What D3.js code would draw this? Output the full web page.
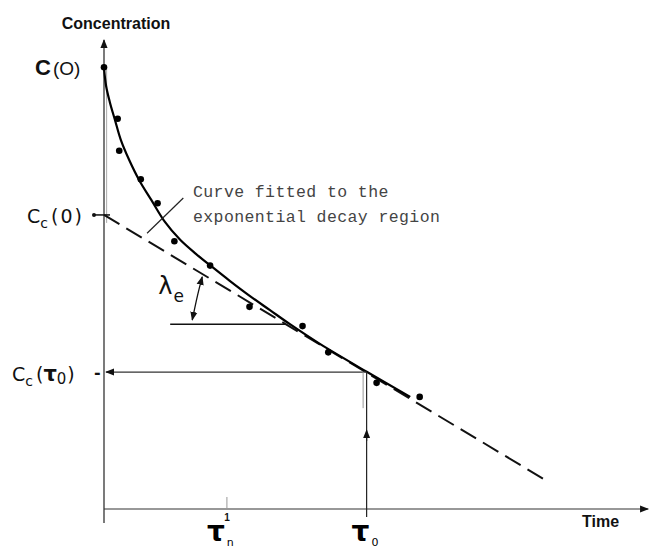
<!DOCTYPE html>
<html>
<head>
<meta charset="utf-8">
<script src="https://cdn.jsdelivr.net/npm/d3@7"></script>
<style>
  body { margin: 0; background: #fff; }
  svg { display: block; }
</style>
</head>
<body>
<svg id="chart" width="651" height="551"></svg>
<script>
// measured concentration samples [time, concentration]
const samples = [
  [0.00, 9.42], [0.26, 8.32], [0.29, 7.64], [0.70, 7.03], [1.02, 6.52],
  [1.34, 5.71], [2.02, 5.19], [2.77, 4.31], [3.78, 3.90], [4.27, 3.34],
  [5.19, 2.69], [6.01, 2.39]
];

// fitted curve
const fitted = [
  [0.00, 9.40], [0.04, 9.02], [0.11, 8.68], [0.21, 8.29], [0.32, 7.87],
  [0.48, 7.44], [0.67, 7.01], [0.90, 6.59], [1.16, 6.12], [1.45, 5.74],
  [1.75, 5.44], [2.06, 5.16], [2.40, 4.86], [2.78, 4.54], [3.16, 4.24],
  [3.54, 3.94], [4.11, 3.52], [5.01, 2.92], [5.83, 2.39]
];

// exponential decay region (straight line, dashed)
const decayLine = [[0.00, 6.27], [8.40, 0.62]];

const tauZero = 5.0;
const tauN = 2.34;
const ccZero = 6.27;
const ccTau = 2.92;
const lambdaLevel = 3.94;
const lambdaSpan = [1.26, 3.45];
const xMax = 10.36;
const yMax = 10;

const svg = d3.select("#chart");
const g = svg.append("g");

const x = d3.scaleLinear().domain([0, 10.3]).range([104, 645]);
const y = d3.scaleLinear().domain([0, 10]).range([509, 40]);

const line = d3.line().x(d => x(d[0])).y(d => y(d[1]));

// arrow markers
const defs = svg.append("defs");
defs.append("marker")
  .attr("id", "arrow")
  .attr("viewBox", "0 0 10 10")
  .attr("refX", 9).attr("refY", 5)
  .attr("markerWidth", 9).attr("markerHeight", 9)
  .attr("markerUnits", "userSpaceOnUse")
  .attr("orient", "auto-start-reverse")
  .append("path")
  .attr("d", "M0,1 L10,5 L0,9 Z")
  .attr("fill", "#111");

// axes
g.append("line")
  .attr("x1", x(0)).attr("x2", x(0))
  .attr("y1", y(-0.3)).attr("y2", y(yMax))
  .attr("stroke", "#222").attr("stroke-width", 1.2)
  .attr("marker-end", "url(#arrow)");

g.append("line")
  .attr("x1", x(0)).attr("x2", x(xMax))
  .attr("y1", y(0)).attr("y2", y(0))
  .attr("stroke", "#333").attr("stroke-width", 1.2)
  .attr("marker-end", "url(#arrow)");

// faint double line near the axis top (scan look)
g.append("line")
  .attr("x1", x(0.05)).attr("x2", x(0.05))
  .attr("y1", y(9.4)).attr("y2", y(6.1))
  .attr("stroke", "#aaa").attr("stroke-width", 1);

// tick for tau_n
g.append("line")
  .attr("x1", x(tauN)).attr("x2", x(tauN))
  .attr("y1", y(0)).attr("y2", y(0) - 12)
  .attr("stroke", "#999").attr("stroke-width", 1);

// Cc(0) cross tick
g.append("line")
  .attr("x1", x(0) - 10).attr("x2", x(0) + 6)
  .attr("y1", y(ccZero)).attr("y2", y(ccZero))
  .attr("stroke", "#111").attr("stroke-width", 1.5);
g.append("circle")
  .attr("cx", x(0) - 10).attr("cy", y(ccZero)).attr("r", 2).attr("fill", "#111");

// dashed decay line
g.append("path")
  .datum(decayLine)
  .attr("fill", "none")
  .attr("stroke", "#111")
  .attr("stroke-width", 2)
  .attr("stroke-dasharray", "18,8")
  .attr("d", line);

// fitted curve
g.append("path")
  .datum(fitted)
  .attr("fill", "none")
  .attr("stroke", "#000")
  .attr("stroke-width", 2.2)
  .attr("d", d3.line().curve(d3.curveCatmullRom).x(d => x(d[0])).y(d => y(d[1])));

// data points
g.selectAll(".dot")
  .data(samples)
  .enter().append("circle")
  .attr("class", "dot")
  .attr("cx", d => x(d[0]))
  .attr("cy", d => y(d[1]))
  .attr("r", 3.3)
  .attr("fill", "#000");

// horizontal arrow tau0 -> Cc(tau0)
g.append("line")
  .attr("x1", x(tauZero)).attr("x2", x(0) + 2)
  .attr("y1", y(ccTau)).attr("y2", y(ccTau))
  .attr("stroke", "#333").attr("stroke-width", 1.2)
  .attr("marker-end", "url(#arrow)");

// vertical line up from tau0 with mid arrowhead
g.append("line")
  .attr("x1", x(tauZero)).attr("x2", x(tauZero))
  .attr("y1", y(-0.17)).attr("y2", y(ccTau))
  .attr("stroke", "#222").attr("stroke-width", 1.2);
g.append("line")
  .attr("x1", x(tauZero)).attr("x2", x(tauZero))
  .attr("y1", y(1.45)).attr("y2", y(1.68))
  .attr("stroke", "#222").attr("stroke-width", 1.2)
  .attr("marker-end", "url(#arrow)");
g.append("line")
  .attr("x1", x(tauZero) - 3.5).attr("x2", x(tauZero) - 3.5)
  .attr("y1", y(ccTau)).attr("y2", y(2.15))
  .attr("stroke", "#999").attr("stroke-width", 1);

// lambda_e reference line and arc
g.append("line")
  .attr("x1", x(lambdaSpan[0])).attr("x2", x(lambdaSpan[1]))
  .attr("y1", y(lambdaLevel)).attr("y2", y(lambdaLevel))
  .attr("stroke", "#111").attr("stroke-width", 1.6);

const arcPts = [[1.87, 4.95], [1.78, 4.55], [1.68, 4.03]];
g.append("path")
  .datum(arcPts)
  .attr("fill", "none")
  .attr("stroke", "#111")
  .attr("stroke-width", 1.3)
  .attr("marker-start", "url(#arrow)")
  .attr("marker-end", "url(#arrow)")
  .attr("d", d3.line().curve(d3.curveNatural).x(d => x(d[0])).y(d => y(d[1])));

// pointer for the annotation
const pointer = [[0.82, 5.88], [1.51, 6.63]];
g.append("path")
  .datum(pointer)
  .attr("stroke", "#222")
  .attr("stroke-width", 1.2)
  .attr("d", line);

// labels
const sans = "'Liberation Sans', Arial, sans-serif";
const soft = "'DejaVu Sans', 'Liberation Sans', sans-serif";

svg.append("text")
  .attr("x", x(0) + 12).attr("y", 29)
  .attr("text-anchor", "middle")
  .attr("font-family", sans).attr("font-weight", "bold")
  .attr("font-size", 16)
  .attr("fill", "#111")
  .text("Concentration");

const c0 = svg.append("text")
  .attr("x", x(0) - 69).attr("y", y(9.42) + 8)
  .attr("font-family", sans).attr("fill", "#111");
c0.append("tspan").attr("font-weight", "bold").attr("font-size", 22).text("C");
c0.append("tspan").attr("font-size", 19).attr("dx", 2).text("(O)");

function subLabel(xp, yp, main, sub, rest) {
  const t = svg.append("text")
    .attr("x", xp).attr("y", yp)
    .attr("font-family", soft).attr("font-size", 19).attr("fill", "#111");
  t.append("tspan").text(main);
  t.append("tspan").attr("font-size", 14).attr("dy", 5).text(sub);
  t.append("tspan").attr("dy", -5).attr("dx", 3).attr("letter-spacing", 2).text(rest);
  return t;
}
subLabel(x(0) - 77, y(ccZero) + 8, "C", "c", "(0)");

const ct = svg.append("text")
  .attr("x", x(0) - 92).attr("y", y(ccTau) + 9)
  .attr("font-family", soft).attr("font-size", 19).attr("fill", "#111");
ct.append("tspan").text("C");
ct.append("tspan").attr("font-size", 14).attr("dy", 5).text("c");
ct.append("tspan").attr("dy", -5).attr("dx", 3).text("(");
ct.append("tspan").attr("font-size", 21).attr("font-weight", "bold").text("τ");
ct.append("tspan").attr("font-size", 15).attr("dy", 3).text("0");
ct.append("tspan").attr("dy", -3).attr("dx", 1).text(")");
svg.append("text")
  .attr("x", x(0) - 10).attr("y", y(ccTau) + 6)
  .attr("font-family", soft).attr("font-size", 16).attr("font-weight", "bold")
  .attr("fill", "#111").text("-");

const lam = svg.append("text")
  .attr("x", x(lambdaSpan[0]) - 12).attr("y", y(lambdaLevel) - 30)
  .attr("font-family", soft).attr("font-size", 24).attr("fill", "#111");
lam.append("tspan").text("λ");
lam.append("tspan").attr("font-size", 17).attr("dy", 8).attr("dx", 1).text("e");

const note = svg.append("text")
  .attr("font-family", "'Liberation Mono', 'DejaVu Sans Mono', monospace")
  .attr("font-size", 16.5).attr("letter-spacing", 0.4).attr("fill", "#444");
note.append("tspan").attr("x", 193).attr("y", 197).text("Curve fitted to the");
note.append("tspan").attr("x", 193).attr("y", 222).text("exponential decay region");

svg.append("text")
  .attr("x", x(tauN)).attr("y", 521)
  .attr("text-anchor", "middle")
  .attr("font-family", sans).attr("font-weight", "bold").attr("font-size", 10)
  .attr("fill", "#111").text("1");

function tauLabel(xc, sub) {
  const t = svg.append("text")
    .attr("x", xc - 14).attr("y", 541)
    .attr("font-family", soft).attr("font-weight", "bold").attr("font-size", 28)
    .attr("fill", "#000");
  t.append("tspan").text("τ");
  t.append("tspan").attr("font-size", 11).attr("font-weight", "normal").attr("dy", 5).attr("dx", 2).text(sub);
}
tauLabel(x(tauN) - 6, "n");
tauLabel(x(tauZero) - 1, "0");

svg.append("text")
  .attr("x", 582).attr("y", 527)
  .attr("font-family", sans).attr("font-weight", "bold").attr("font-size", 16)
  .attr("fill", "#111").text("Time");
</script>
</body>
</html>
